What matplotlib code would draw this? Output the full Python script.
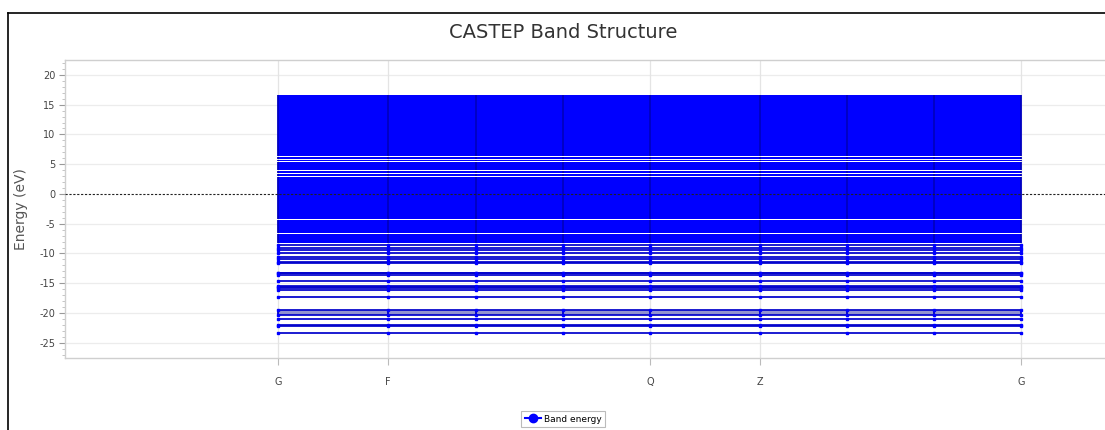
import matplotlib
matplotlib.use("Agg")
import matplotlib.pyplot as plt
from matplotlib.lines import Line2D
from matplotlib.ticker import MultipleLocator

# ---------------- data ----------------
kpos = [0.0, 1.10, 1.98, 2.85, 3.72, 4.82, 5.69, 6.56, 7.43]
klabels = ["G", "F", "", "", "Q", "Z", "", "", "G"]

# dense valence / conduction manifold: energy windows (eV) filled by bands
dense_lo = [6.33, 5.89, 5.49, 4.76, 3.96, 3.53, 2.96, 1.56, -4.19, -5.84, -6.64, -8.30]
dense_hi = [16.70, 6.21, 5.77, 5.37, 4.64, 3.84, 3.41, 2.84, 1.44, -4.31, -5.96, -6.76]

# individual (nearly flat) lower bands, eV
core_bands = [-8.50, -9.00, -9.40, -9.85,
              -10.65, -11.00, -11.40, -11.65,
              -13.20, -13.35, -13.55,
              -14.60,
              -15.45, -15.60, -15.80, -16.10,
              -17.25,
              -19.50, -20.30,
              -21.05,
              -22.05, -22.20,
              -23.40]
# closely packed band bundle drawn as a pale block
bundle_lo = [-20.30]
bundle_hi = [-19.50]

yticks = [-25, -20, -15, -10, -5, 0, 5, 10, 15, 20]

# ---------------- figure ----------------
W, H = 1105, 430
fig = plt.figure(figsize=(W / 100, H / 100), dpi=100)
ax = fig.add_axes([65 / W, (H - 358) / H, (1118 - 65) / W, (358 - 60) / H])

blue = "#0000ff"
dark = "#0000c0"

for lo, hi in zip(dense_lo, dense_hi):
    ax.fill_between([kpos[0], kpos[-1]], lo, hi, color=blue, lw=0, zorder=2)
    ax.vlines(kpos, lo, hi, color=dark, lw=1.3, zorder=3)

for lo, hi in zip(bundle_lo, bundle_hi):
    ax.fill_between([kpos[0], kpos[-1]], lo, hi, color="#8080c8", alpha=0.85, lw=0, zorder=2)
    ax.vlines(kpos, lo, hi, color=dark, lw=1.3, zorder=3)

for e in core_bands:
    ax.plot(kpos, [e] * len(kpos), color="#0000cc", lw=1.25, marker="s", ms=2.0,
            mec=blue, mfc=blue, zorder=3)

ax.axhline(0, color="#222222", lw=0.8, ls=(0, (2, 1.5)), zorder=5)

ax.set_xlim((65 - 278) / 100, (1118 - 278) / 100)
ax.set_ylim(-27.56, 22.5)

ax.set_yticks(yticks)
ax.yaxis.set_minor_locator(MultipleLocator(1))
ax.set_yticklabels([str(t) for t in yticks], fontsize=7, color="#444444")
lab_pos = [p for p, l in zip(kpos, klabels) if l]
lab_txt = [l for l in klabels if l]
ax.set_xticks(lab_pos)
ax.set_xticklabels(lab_txt, fontsize=7, color="#444444")

ax.tick_params(axis="y", which="major", length=4, color="#999999", pad=3)
ax.tick_params(axis="y", which="minor", length=2, color="#bbbbbb")
ax.tick_params(axis="x", length=5, color="#bbbbbb", pad=9)

for t in yticks:
    if t != 0:
        ax.axhline(t, color="#ececec", lw=0.9, zorder=0)
for p in lab_pos:
    ax.axvline(p, color="#e4e4e4", lw=0.9, zorder=0)

for s in ["left", "bottom", "top"]:
    ax.spines[s].set_color("#cfcfcf")
    ax.spines[s].set_linewidth(1.0)
ax.spines["right"].set_visible(False)

ax.set_ylabel("Energy (eV)", fontsize=10, color="#555555", labelpad=8)

fig.text(563 / W, 1 - 33 / H, "CASTEP Band Structure", ha="center", va="center",
         fontsize=14, color="#333333")

# legend
handle = Line2D([0], [0], color=blue, lw=1.5, marker="o", ms=6, mfc=blue, mec=blue)
leg = fig.legend([handle], ["Band energy"], loc="center", bbox_to_anchor=(563 / W, 1 - 419 / H),
                 fontsize=6.5, frameon=True, fancybox=False, handlelength=1.8,
                 borderpad=0.35, handletextpad=0.3)
leg.get_frame().set_edgecolor("#aaaaaa")
leg.get_frame().set_linewidth(0.8)

# outer panel border (top and left)
fig.add_artist(Line2D([8 / W, 1.0], [1 - 13 / H, 1 - 13 / H], color="black", lw=1.2))
fig.add_artist(Line2D([8 / W, 8 / W], [0, 1 - 13 / H], color="black", lw=1.2))

fig.savefig("out.png", dpi=100)
